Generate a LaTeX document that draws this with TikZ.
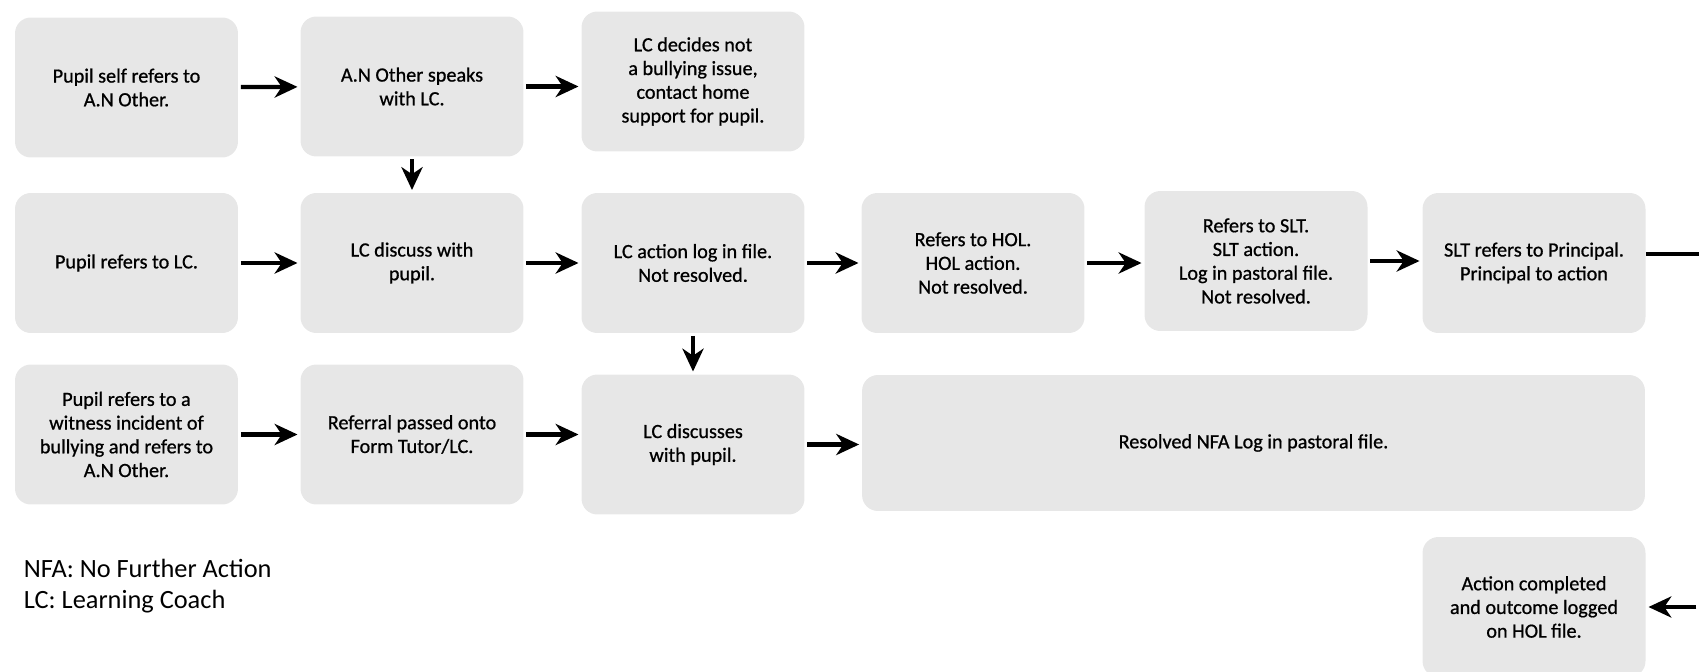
\documentclass[tikz,border=0pt]{standalone}
\usepackage{fontspec}
\setmainfont{Carlito}
\newfontfamily\boxfont{Carlito}[FakeBold=0.8]
\usetikzlibrary{arrows.meta}
\definecolor{boxgrey}{RGB}{231,231,231}
\tikzset{box/.style={fill=boxgrey,rounded corners=9pt,minimum width=4.46cm,minimum height=2.8cm,
                     align=center,inner sep=2pt,font=\boxfont\fontsize{11.5}{13.5}\selectfont},
         arr/.style={-{Stealth[length=13pt,width=12pt,inset=4pt]},line width=2.4pt,
                     shorten <=1.5pt,shorten >=1.5pt}}

\begin{document}
\begin{tikzpicture}
        [x=0.02cm,y=-0.02cm,every node/.style={box}]
        % positions are given in pixels of the original chart, y runs downwards
        \useasboundingbox (0,0) rectangle (1699,672);

        \node (b1) at (126.5,87.5) {Pupil self refers to\\A.N Other.};
        \node (b2) at (412,86.5) {A.N Other speaks\\with LC.};
        \node (b3) at (693,81.5) {LC decides not\\a bullying issue,\\contact home\\support for pupil.};
        \node (b4) at (126.5,263) {Pupil refers to LC.};
        \node (b5) at (412,263) {LC discuss with\\pupil.};
        \node (b6) at (693,263) {LC action log in file.\\Not resolved.};
        \node (b7) at (973,263) {Refers to HOL.\\HOL action.\\Not resolved.};
        \node (b8) at (1256,261) {Refers to SLT.\\SLT action.\\Log in pastoral file.\\Not resolved.};
        \node (b9) at (1534,263) {SLT refers to Principal.\\Principal to action};
        \node (b10) at (126.5,434.5) {Pupil refers to a\\witness incident of\\bullying and refers to\\A.N Other.};
        \node (b11) at (412,434.5) {Referral passed onto\\Form Tutor/LC.};
        \node (b12) at (693,444.5) {LC discusses\\with pupil.};
        \node[minimum width=15.66cm,minimum height=2.72cm] (b13) at (1253.5,443) {Resolved NFA Log in pastoral file.};
        \node[minimum height=2.8cm] (b14) at (1534,607) {Action completed\\and outcome logged\\on HOL file.};

        \node[fill=none,anchor=west,align=left,minimum width=0pt,minimum height=0pt,
              font=\fontsize{15}{17.5}\selectfont] (key) at (20,586) {NFA: No Further Action\\LC: Learning Coach};

        \coordinate (outR) at (1699,254); % line leaves the chart on the right
        \coordinate (inR) at (1699,607);  % and comes back lower down

        \draw[arr] (b1) -- (b2); % first row
        \draw[arr] (b2.east) -- (b2.east -| b3.west);
        \draw[arr] (b2) -- (b5);
        \draw[arr] (b4) -- (b5); % second row
        \draw[arr] (b5) -- (b6);
        \draw[arr] (b6) -- (b7);
        \draw[arr] (b7) -- (b8.west |- b7.east);
        \draw[arr] (b8.east) -- (b8.east -| b9.west);
        \draw[arr] (b6) -- (b12);
        \draw[arr] (b10) -- (b11); % third row
        \draw[arr] (b11.east) -- (b11.east -| b12.west);
        \draw[arr] (b12) -- (b13.west |- b12.east);
        \draw[line width=2.4pt] (outR -| b9.east) -- (outR);
        \draw[arr] (inR) -- (inR -| b14.east);

\end{tikzpicture}
\end{document}
